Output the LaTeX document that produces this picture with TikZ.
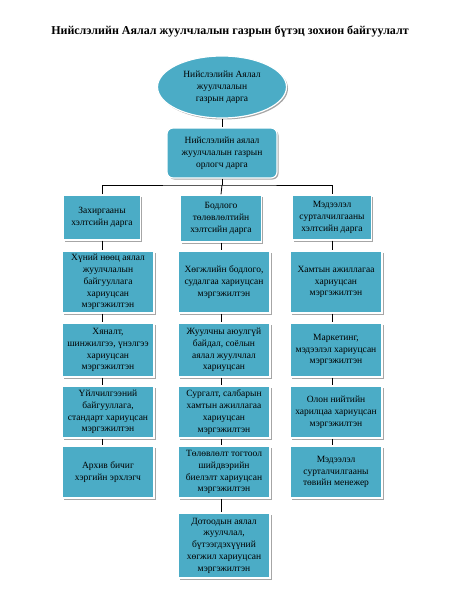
\documentclass[tikz,border=0pt]{standalone}
\usepackage{fontspec}
\setmainfont{Liberation Serif}
\usetikzlibrary{shapes.geometric,shadows}
\definecolor{boxblue}{HTML}{4BACC6}
\tikzset{
  box/.style={draw=white, line width=1.2pt, fill=boxblue, align=center, inner sep=1pt,
    font=\fontsize{9.5}{11.8}\selectfont,
    drop shadow={shadow xshift=1.5pt, shadow yshift=-1.5pt, opacity=0.35, fill=black}},
  head/.style={box, minimum height=45pt},
  staff/.style={box, minimum width=92pt},
  link/.style={black, line width=0.8pt},
}
\begin{document}
\begin{tikzpicture}[x=1pt, y=-1pt]
	\useasboundingbox (0,0) rectangle (456,616);
	% гарчиг
	\node (title) at (230,31) {\fontsize{12}{14}\selectfont\bfseries Нийслэлийн Аялал жуулчлалын газрын бүтэц зохион байгуулалт};
	% дарга, орлогч дарга
	\node [box, ellipse, minimum width=129pt, minimum height=62pt] (darga) at (222,87) {Нийслэлийн Аялал\\жуулчлалын\\газрын дарга};
	\node [box, rounded corners=6pt, minimum width=110pt, minimum height=50pt] (orlogch) at (222,153) {Нийслэлийн аялал\\жуулчлалын газрын\\орлогч дарга};
	% хэлтсийн дарга нар
	\node [head, minimum width=77pt] (h1) at (102,217.5) {Захиргааны\\хэлтсийн дарга};
	\node [head, minimum width=81pt, minimum height=47pt] (h2) at (221,218.5) {Бодлого\\төлөвлөлтийн\\хэлтсийн дарга};
	\node [head, minimum width=79pt] (h3) at (332,217.5) {Мэдээлэл\\сурталчилгааны\\хэлтсийн дарга};
	% Захиргааны хэлтэс
	\node [staff, minimum height=62pt] (a1) at (108,282) {Хүний нөөц аялал\\жуулчлалын\\байгууллага\\хариуцсан\\мэргэжилтэн};
	\node [staff, minimum height=54pt] (a2) at (108,350) {Хяналт,\\шинжилгээ, үнэлгээ\\хариуцсан\\мэргэжилтэн};
	\node [staff, minimum height=52pt] (a3) at (108,412) {Үйлчилгээний\\байгууллага,\\стандарт хариуцсан\\мэргэжилтэн};
	\node [staff, minimum height=52pt] (a4) at (108,472) {Архив бичиг\\хэргийн эрхлэгч};
	% Бодлого төлөвлөлтийн хэлтэс
	\node [staff, minimum height=62pt] (b1) at (224,282) {Хөгжлийн бодлого,\\судалгаа хариуцсан\\мэргэжилтэн};
	\node [staff, minimum height=54pt] (b2) at (224,350) {Жуулчны аюулгүй\\байдал, соёлын\\аялал жуулчлал\\хариуцсан};
	\node [staff, minimum height=52pt] (b3) at (224,412) {Сургалт, салбарын\\хамтын ажиллагаа\\хариуцсан\\мэргэжилтэн};
	\node [staff, minimum height=52pt] (b4) at (224,472) {Төлөвлөлт тогтоол\\шийдвэрийн\\биелэлт хариуцсан\\мэргэжилтэн};
	\node [staff, minimum height=65pt] (b5) at (224,545.5) {Дотоодын аялал\\жуулчлал,\\бүтээгдэхүүний\\хөгжил хариуцсан\\мэргэжилтэн};
	% Мэдээлэл сурталчилгааны хэлтэс
	\node [staff, minimum height=62pt] (c1) at (336,282) {Хамтын ажиллагаа\\хариуцсан\\мэргэжилтэн};
	\node [staff, minimum height=54pt] (c2) at (336,350) {Маркетинг,\\мэдээлэл хариуцсан\\мэргэжилтэн};
	\node [staff, minimum height=52pt] (c3) at (336,412) {Олон нийтийн\\харилцаа хариуцсан\\мэргэжилтэн};
	\node [staff, minimum height=52pt] (c4) at (336,472) {Мэдээлэл\\сурталчилгааны\\төвийн менежер};
	% холбоос
	\coordinate (bar) at (222,185);
	\draw [link] (darga.south) -- (orlogch.north);
	\draw [link] (orlogch.south) -- (bar);
	\draw [link] (h1.north) |- (bar) -| (h3.north);
	\draw [link] (bar) -- (h2.north);
	\draw [link] (h1.south) -- (h1.south |- a1.north);
	\draw [link] (h2.south) -- (h2.south |- b1.north);
	\draw [link] (h3.south) -- (h3.south |- c1.north);
	\foreach \u/\v in {a1/a2,a2/a3,a3/a4}
		\draw [link] (\u.south -| h1) -- (\v.north -| h1);
	\foreach \u/\v in {b1/b2,b2/b3,b3/b4,b4/b5}
		\draw [link] (\u.south -| h2) -- (\v.north -| h2);
	\foreach \u/\v in {c1/c2,c2/c3,c3/c4}
		\draw [link] (\u.south -| h3) -- (\v.north -| h3);
\end{tikzpicture}
\end{document}
